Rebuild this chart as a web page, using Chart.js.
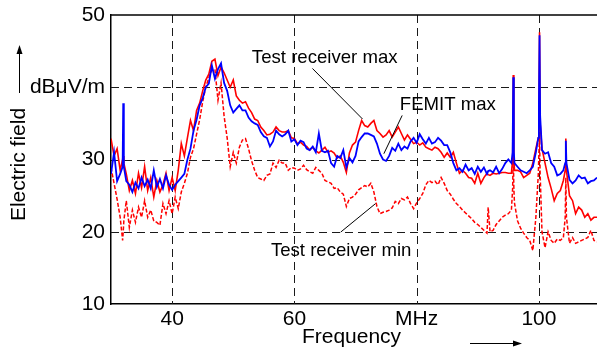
<!DOCTYPE html>
<html>
<head>
<meta charset="utf-8">
<script src="https://cdn.jsdelivr.net/npm/chart.js@4/dist/chart.umd.min.js"></script>
<style>
  html, body { margin: 0; padding: 0; background: #fff; overflow: hidden; }
  #wrap { width: 597px; height: 355px; }
</style>
</head>
<body>
<div id="wrap"><canvas id="c" width="597" height="355"></canvas></div>
<script>
// Frequency grid in MHz (extra points around the narrow carrier peaks)
const freqMHz = [
  30, 30.5, 31, 31.5, 31.9, 32, 32.1, 32.5, 33, 33.5, 34, 34.5, 35, 35.5, 36, 36.5, 37, 37.5, 38, 38.5, 39, 39.5,
  40, 40.5, 41, 41.5, 42, 42.5, 43, 43.5, 44, 44.5, 45, 45.5, 46, 46.5, 47, 47.5, 48, 48.5, 49, 49.5,
  50, 50.5, 51, 51.5, 52, 52.5, 53, 53.5, 54, 54.5, 55, 55.5, 56, 56.5, 57, 57.5, 58, 58.5, 59, 59.5,
  60, 60.5, 61, 61.5, 62, 62.5, 63, 63.5, 64, 64.5, 65, 65.5, 66, 66.5, 67, 67.5, 68, 68.5, 69, 69.5,
  70, 70.5, 71, 71.5, 72, 72.5, 73, 73.5, 74, 74.5, 75, 75.5, 76, 76.5, 77, 77.5, 78, 78.5, 79, 79.5,
  80, 80.5, 81, 81.5, 82, 82.5, 83, 83.5, 84, 84.5, 85, 85.5, 86, 86.5, 87, 87.5, 88, 88.5, 89, 89.5,
  90, 90.5, 91, 91.5, 91.7, 92, 92.5, 93, 93.5, 94, 94.5, 95, 95.5, 95.7, 95.8, 95.9, 96, 96.5, 97, 97.5, 98, 98.5, 99, 99.5, 99.9,
  100, 100.1, 100.2, 100.5, 101, 101.5, 102, 102.5, 103, 103.5, 104, 104.3, 104.4, 104.5, 105, 105.5, 106, 106.5, 107, 107.5, 108, 108.5, 109, 109.5
];

// FEMIT max, dBµV/m
const femitMax = [
  28, 31, 27, 28, 29, 37.8, 29, 27, 26.5, 25.5, 26.8, 26, 27.5, 26.3, 27.2, 26, 28.5, 26.2, 27.3, 26, 27.8, 26.5,
  25.8, 26.5, 27, 27.5, 28, 30, 31.5, 34, 35.5, 37.5, 38.5, 40, 40.5, 43, 41.2, 42.5, 43.3, 40.6, 39.5, 37.5,
  36.5, 37, 37.5, 36.8, 36.8, 35.8, 35.3, 35, 34.8, 33.8, 33.2, 33, 31.8, 32.5, 34, 33.5, 33.2, 33.5, 34, 32.5,
  32.8, 32, 32.6, 32.4, 31.5, 31.3, 31.8, 31, 33.6, 31.2, 31, 31.2, 29.5, 29, 30.5, 30.2, 31.3, 28.9, 30.2, 29.6,
  30.5, 32.5, 33.1, 33.6, 33.6, 33.4, 33.2, 32.2, 30.8, 30, 29.8, 30.5, 31.6, 31.2, 32.2, 31.3, 31.8, 31.5, 32.5, 33,
  32.3, 33.5, 32.8, 32.2, 33, 32.2, 32.4, 33, 32.6, 32, 32, 31, 29.5, 28.5, 28.8, 28.3, 29.3, 28.5, 28.8, 28,
  29, 28.3, 28.9, 28, 28.4, 28.5, 28.2, 29, 28.1, 28.7, 29.5, 30, 29.5, 31, 41.4, 31, 29.5, 29, 28.5, 28.3, 28.1, 28.5, 29, 31, 33,
  38, 47.2, 36, 31.3, 30.8, 31, 29.5, 29, 27.8, 28, 28.5, 29.5, 32.6, 29.5, 27.2, 26.7, 27.1, 27.8, 27.4, 27.5, 26.7, 27, 27.1, 27.5
];

// Test receiver max, dBµV/m
const receiverMax = [
  32.9, 30.5, 31.5, 28.5, 30, 30.5, 29.5, 28, 25.7, 27.1, 25.3, 28.1, 26.1, 29, 25.7, 27.5, 24.8, 27.1, 25.5, 26.5, 28.1, 25.7,
  27.5, 25.7, 28.5, 32.2, 30.5, 33, 35.4, 34, 36.8, 37.8, 39.5, 41, 41.8, 43.6, 43.9, 41.6, 42.8, 42, 41, 40,
  41, 38.8, 38.2, 37.8, 38, 37.1, 36.5, 35.6, 35.4, 34.5, 34, 33.4, 33.5, 33.8, 34.5, 34, 33.8, 33.8, 34, 33,
  32.9, 32.2, 32.4, 32, 31.8, 31.3, 31.7, 31.2, 30.9, 31.3, 31.7, 31, 31.2, 30.9, 30.2, 30.5, 29.6, 28.2, 30.9, 32,
  32.4, 34, 35.4, 34.7, 34.5, 35, 35.4, 34, 33.6, 33.1, 33.4, 34, 33.1, 33.8, 34.5, 33.6, 32.7, 33.4, 32.8, 32.2,
  32.4, 32, 32.3, 31.7, 31.5, 31.3, 31.7, 31.5, 31, 30.3, 30.9, 30.3, 31, 29.5, 28.1, 28.5, 28.1, 27.5, 27.4, 26.7,
  28.1, 26.7, 27.5, 28.1, 27.9, 27.8, 28.1, 28, 28.1, 28.2, 28.2, 28.1, 28.1, 30, 41.7, 30, 28.5, 28.5, 28.3, 27.5, 27.8, 28.1, 29.5, 31.5, 33,
  37, 47.6, 35, 31.5, 29.5, 27.5, 26, 24.3, 25.3, 25.7, 27.1, 28.5, 32.9, 28.5, 25, 24.3, 22.5, 23.4, 23, 22, 22.5, 21.6, 22, 22
];

// Test receiver min, dBµV/m
const receiverMin = [
  28.9, 26.7, 24.5, 22, 18.8, 20, 21.5, 24.3, 20.6, 23, 21.3, 23.4, 22, 24.3, 22, 23, 21.5, 21.3, 20.9, 23.9, 22.5, 24.3,
  22.5, 24.8, 23.2, 25.5, 26.7, 28.1, 30.3, 31.5, 33.5, 35.5, 38, 40, 41.3, 42.4, 42.5, 38.2, 40.6, 36, 33, 29,
  31, 29.5, 31.7, 32.7, 32.9, 31.5, 29.8, 28.5, 27.5, 27.3, 27.1, 27.8, 28, 29.5, 28.9, 29.9, 29.5, 29.5, 28.5, 28.9,
  28.8, 28.5, 28.7, 29.2, 28.6, 28.3, 28.1, 28.9, 28.5, 28.1, 27.1, 26.9, 26.7, 26, 26.1, 25.5, 25.2, 23.5, 24.6, 24.8,
  25.2, 25.8, 26.1, 26.4, 26.2, 26.7, 25.5, 23.5, 22.5, 22.7, 22.8, 23, 23.3, 24.2, 23.9, 24.6, 24.4, 24.8, 23.9, 23.2,
  24, 24.6, 25.3, 26.5, 27.1, 26.8, 27, 26.5, 27.5, 26.7, 25.7, 25.2, 24.5, 23.9, 23.5, 23, 22.6, 22.2, 21.8, 21.3,
  21, 20.6, 20.2, 19.8, 23.4, 20, 20.2, 21, 21.5, 22, 22.3, 22.5, 23, 26, 31, 26, 24, 21.5, 20.5, 19.8, 19.2, 18.8, 17.4, 22, 28,
  31, 33, 28, 20, 17.8, 20, 18.8, 18.4, 19, 18.8, 19.2, 22, 27.5, 22, 18.4, 19.2, 18.4, 18.6, 18.8, 19, 19.2, 20.2, 18.8, 18.6
];

// Axis ticks and their labels
const xTickValues = [40, 60, 80, 100];
const xTickText = { 80: 'MHz' };
const yTickValues = [10, 20, 30, 40, 50];
const yTickText = { 40: 'dBμV/m' };

[femitMax, receiverMax, receiverMin].forEach(a => {
  if (a.length !== freqMHz.length) throw new Error('series length ' + a.length + ' vs ' + freqMHz.length);
});

const FONT = '"Liberation Sans", Arial, Helvetica, sans-serif';
const pts = vals => freqMHz.map((f, i) => ({ x: f, y: vals[i] }));

// Curve labels with leader lines (in axis units)
const notes = [
  { text: 'Test receiver max', at: [64.96, 43.3], from: [62.95, 42.6], to: [71.15, 35.6] },
  { text: 'FEMIT max',         at: [85.1, 36.8],  from: [77.63, 36.1], to: [74.63, 30.8] },
  { text: 'Test receiver min', at: [67.65, 16.7], from: [67.57, 19.95], to: [73.28, 23.9] }
];

function arrow(ctx, x1, y1, x2, y2) {
  const ang = Math.atan2(y2 - y1, x2 - x1), len = 9, hw = 3;
  ctx.beginPath();
  ctx.moveTo(x1, y1);
  ctx.lineTo(x2 - Math.cos(ang) * len * 0.8, y2 - Math.sin(ang) * len * 0.8);
  ctx.stroke();
  ctx.beginPath();
  ctx.moveTo(x2, y2);
  ctx.lineTo(x2 - Math.cos(ang) * len - Math.sin(ang) * hw, y2 - Math.sin(ang) * len + Math.cos(ang) * hw);
  ctx.lineTo(x2 - Math.cos(ang) * len + Math.sin(ang) * hw, y2 - Math.sin(ang) * len - Math.cos(ang) * hw);
  ctx.closePath();
  ctx.fill();
}

const framePlugin = {
  id: 'frame',
  beforeDatasetsDraw(chart) {
    const { ctx, chartArea: a, scales: { x, y } } = chart;
    ctx.save();
    ctx.strokeStyle = '#1a1a1a';
    ctx.lineWidth = 1;
    ctx.setLineDash([8, 5]);
    [40, 60, 80, 100].forEach(v => {
      const px = Math.round(x.getPixelForValue(v)) + 0.5;
      ctx.beginPath(); ctx.moveTo(px, a.top); ctx.lineTo(px, a.bottom); ctx.stroke();
    });
    [20, 30, 40].forEach(v => {
      const py = Math.round(y.getPixelForValue(v)) + 0.5;
      ctx.beginPath(); ctx.moveTo(a.left, py); ctx.lineTo(a.right, py); ctx.stroke();
    });
    ctx.restore();
  },
  afterDraw(chart) {
    const { ctx, chartArea: a, scales: { x, y } } = chart;
    ctx.save();
    // top edge of the plot box
    ctx.strokeStyle = '#000';
    ctx.lineWidth = 1.5;
    ctx.beginPath(); ctx.moveTo(a.left, a.top); ctx.lineTo(a.right, a.top); ctx.stroke();

    // curve labels
    ctx.fillStyle = '#000';
    ctx.lineWidth = 1;
    ctx.font = '18.6px ' + FONT;
    ctx.textAlign = 'center';
    ctx.textBaseline = 'alphabetic';
    notes.forEach(n => {
      ctx.fillText(n.text, x.getPixelForValue(n.at[0]), y.getPixelForValue(n.at[1]));
      ctx.beginPath();
      ctx.moveTo(x.getPixelForValue(n.from[0]), y.getPixelForValue(n.from[1]));
      ctx.lineTo(x.getPixelForValue(n.to[0]), y.getPixelForValue(n.to[1]));
      ctx.stroke();
    });

    // axis titles with direction arrows
    ctx.font = '21px ' + FONT;
    ctx.fillText('Frequency', 351.5, 343);
    arrow(ctx, 470, 343.5, 522, 343.5);

    ctx.save();
    ctx.translate(25, 164.5);
    ctx.rotate(-Math.PI / 2);
    ctx.fillText('Electric field', 0, 0);
    ctx.restore();
    arrow(ctx, 19.5, 93, 19.5, 45);
    ctx.restore();
  }
};

const tickFont = { family: FONT, size: 21 };

new Chart(document.getElementById('c'), {
  type: 'line',
  data: {
    datasets: [
      { label: 'FEMIT max', data: pts(femitMax), borderColor: '#0000ff', borderWidth: 1.8 },
      { label: 'Test receiver max', data: pts(receiverMax), borderColor: '#ff0000', borderWidth: 1.6 },
      { label: 'Test receiver min', data: pts(receiverMin), borderColor: '#ff0000', borderWidth: 1.5, borderDash: [4, 2] }
    ]
  },
  options: {
    responsive: false,
    animation: false,
    devicePixelRatio: 1,
    layout: { padding: { top: 15, right: 0, bottom: 0, left: 0 } },
    elements: { point: { radius: 0 }, line: { tension: 0, fill: false } },
    plugins: { legend: { display: false }, tooltip: { enabled: false } },
    scales: {
      x: {
        type: 'linear', min: 30, max: 109.5,
        grid: { display: false, drawTicks: false },
        border: { display: true, color: '#000', width: 1.5 },
        afterBuildTicks: s => { s.ticks = xTickValues.map(v => ({ value: v })); },
        afterFit: s => { s.height = 51; s.paddingLeft = 0; s.paddingRight = 0; },
        ticks: {
          padding: 3, color: '#000', font: tickFont, maxRotation: 0, autoSkip: false,
          callback: v => (xTickText[v] !== undefined ? xTickText[v] : String(v))
        }
      },
      y: {
        type: 'linear', min: 10, max: 50,
        grid: { display: false, drawTicks: false },
        border: { display: true, color: '#000', width: 1.5 },
        afterBuildTicks: s => { s.ticks = yTickValues.map(v => ({ value: v })); },
        afterFit: s => { s.width = 111; s.paddingTop = 0; s.paddingBottom = 0; },
        ticks: {
          padding: 6, color: '#000', font: tickFont, autoSkip: false,
          callback: v => (yTickText[v] !== undefined ? yTickText[v] : String(v))
        }
      }
    }
  },
  plugins: [framePlugin]
});
</script>
</body>
</html>
